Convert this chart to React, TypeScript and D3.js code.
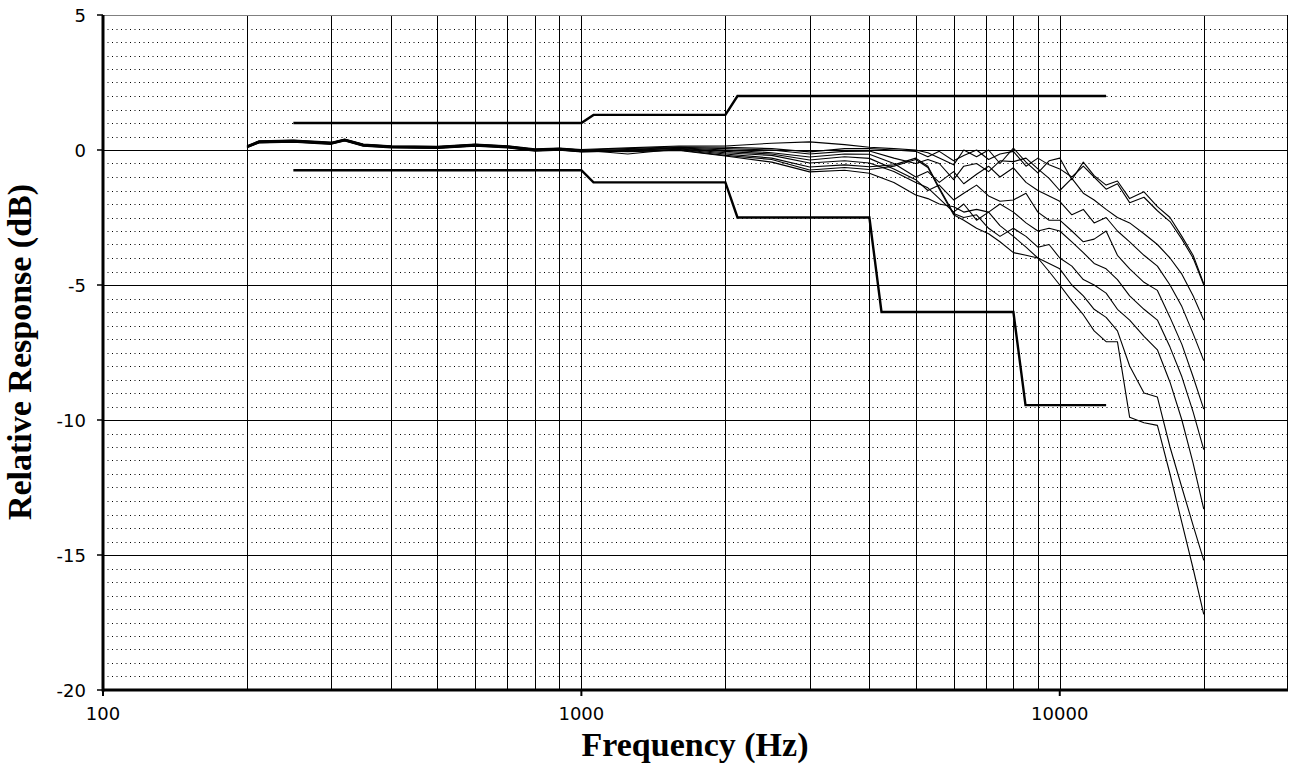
import React from 'react';
import * as d3 from 'd3';

const LF_FREQS = [200, 212, 250, 300, 320, 350, 400, 500, 600, 700, 800, 900, 1000, 1250, 1600];
const HF_FREQS = [2000, 2500, 3000, 3550, 4000, 4500, 5000, 5300, 5600, 6000, 6300, 6700, 7100, 7500, 8000, 8500, 9000, 9500, 10000, 10600, 11200, 11800, 12500, 13200, 14000, 15000, 16000, 17000, 18000, 19000, 20000];
const FREQS = [...LF_FREQS, ...HF_FREQS];

const C1 = [0.16, 0.34, 0.37, 0.29, 0.41, 0.22, 0.16, 0.14, 0.22, 0.16, 0.04, 0.07, 0.02, 0.08, 0.15,
  0.15, 0.25, 0.3, 0.2, 0.1, 0.05, 0.0, -0.1, -0.3, -0.55, 0.0, -0.25, 0.0, -0.5, 0.07, -0.45, -0.85, -0.4, -0.3, -1.1, -0.45, -0.95, -1.3, -1.15, -1.8, -1.55, -2.1, -2.5, -3.2, -3.9, -4.95];
const C2 = [0.14, 0.32, 0.35, 0.27, 0.39, 0.2, 0.14, 0.12, 0.2, 0.14, 0.02, 0.05, 0.0, 0.05, 0.12,
  0.1, 0.05, -0.07, 0.05, 0.05, 0.0, -0.05, -0.25, -0.05, -0.4, -0.2, 0.0, -0.35, -0.15, -0.05, -0.6, -0.3, -0.55, -0.7, -1.0, -0.6, -1.0, -1.45, -1.25, -1.95, -1.75, -2.25, -2.65, -3.3, -4.0, -5.0];
const C3 = [0.12, 0.3, 0.33, 0.25, 0.37, 0.18, 0.12, 0.1, 0.18, 0.12, 0.0, 0.03, -0.03, 0.02, 0.1,
  0.05, 0.0, -0.15, -0.05, -0.04, -0.3, -0.5, -0.35, -0.5, -1.1, -0.6, -0.5, -0.8, -0.4, -0.43, -0.3, -0.7, -1.05, -1.5, -1.05, -1.6, -1.85, -2.2, -2.5, -2.7, -3.1, -3.5, -4.0, -4.6, -5.4, -6.3];
const C4 = [0.1, 0.28, 0.31, 0.23, 0.35, 0.16, 0.1, 0.08, 0.16, 0.1, -0.02, 0.01, -0.05, 0.0, 0.08,
  0.0, -0.1, -0.26, -0.15, -0.16, -0.5, -1.0, -0.8, -1.2, -0.8, -1.25, -0.9, -0.6, -1.0, -0.66, -1.2, -1.5, -1.7, -1.9, -2.4, -2.2, -2.7, -2.5, -3.0, -3.4, -3.9, -4.3, -5.0, -5.8, -6.8, -7.8];
const C5 = [0.08, 0.26, 0.29, 0.21, 0.33, 0.14, 0.08, 0.06, 0.14, 0.08, -0.04, -0.01, -0.07, -0.02, 0.06,
  -0.05, -0.15, -0.37, -0.25, -0.31, -0.7, -1.1, -1.5, -1.3, -1.85, -1.6, -1.3, -1.7, -1.9, -1.85, -1.6, -2.3, -2.6, -2.6, -3.0, -3.4, -3.3, -3.0, -3.9, -4.4, -4.9, -5.2, -6.2, -7.2, -8.4, -9.6];
const C6 = [0.15, 0.33, 0.36, 0.28, 0.4, 0.21, 0.15, 0.13, 0.21, 0.15, 0.03, 0.06, 0.0, -0.15, 0.04,
  -0.1, -0.2, -0.48, -0.4, -0.48, -0.8, -1.2, -1.4, -1.8, -2.3, -2.0, -2.6, -2.3, -2.0, -2.3, -2.7, -3.0, -2.9, -3.0, -3.4, -3.8, -4.2, -4.4, -4.8, -5.4, -5.9, -6.3, -7.3, -8.4, -9.7, -11.1];
const C7 = [0.11, 0.29, 0.32, 0.24, 0.36, 0.17, 0.11, 0.09, 0.17, 0.11, -0.01, 0.02, -0.04, -0.03, 0.02,
  -0.15, -0.3, -0.63, -0.55, -0.62, -0.55, -0.3, -0.6, -1.4, -2.35, -2.5, -2.4, -2.9, -3.2, -2.9, -3.2, -3.6, -3.5, -4.0, -4.3, -4.8, -5.0, -5.3, -5.9, -6.3, -6.9, -7.4, -8.6, -10.0, -11.6, -13.3];
const C8 = [0.09, 0.27, 0.3, 0.22, 0.34, 0.15, 0.09, 0.07, 0.15, 0.09, -0.03, 0.0, -0.06, -0.05, 0.0,
  -0.2, -0.35, -0.74, -0.65, -0.72, -0.6, -0.35, -0.65, -1.45, -2.4, -2.6, -2.9, -3.1, -3.4, -3.8, -3.9, -4.0, -4.2, -4.4, -5.0, -5.4, -5.9, -6.2, -6.7, -8.0, -9.0, -9.15, -11.0, -12.5, -13.9, -15.2];
const C9 = [0.13, 0.31, 0.34, 0.26, 0.38, 0.19, 0.13, 0.11, 0.19, 0.13, 0.01, 0.04, -0.02, -0.06, -0.02,
  -0.22, -0.45, -0.81, -0.75, -0.86, -1.2, -1.67, -1.8, -2.0, -2.1, -2.3, -2.2, -2.3, -2.8, -3.2, -3.6, -4.0, -4.5, -5.0, -5.6, -6.1, -6.7, -7.1, -7.1, -9.9, -10.1, -10.2, -12.0, -13.8, -15.5, -17.2];
const CURVES = [C1, C2, C3, C4, C5, C6, C7, C8, C9];

const UPPER_F = [250, 1000, 1060, 2000, 2120, 12500];
const UPPER_DB = [1, 1, 1.3, 1.3, 2, 2];
const LOWER_F = [250, 1000, 1060, 2000, 2120, 4000, 4240, 8000, 8480, 12500];
const LOWER_DB = [-0.75, -0.75, -1.2, -1.2, -2.5, -2.5, -6, -6, -9.45, -9.45];

const Y_TICKS = [5, 0, -5, -10, -15, -20];
const X_TICKS = [100, 1000, 10000];
const X_GRID = [200, 300, 400, 500, 600, 700, 800, 900, 1000, 2000, 3000, 4000, 5000, 6000, 7000, 8000, 9000, 10000, 20000];

export default function App() {
  const W = 1298, H = 765;
  const x = d3.scaleLog().domain([100, 30000]).range([103, 1288]);
  const y = d3.scaleLinear().domain([-20, 5]).range([690, 15]);
  const line = d3.line<[number, number]>().x(d => x(d[0])).y(d => y(d[1]));
  const minor = d3.range(-19.5, 5, 0.5).filter(v => Math.abs(v % 5) > 1e-6);
  const x0 = x(100), x1 = x(30000), y0 = y(-20), y1 = y(5);

  return (
    <svg width={W} height={H} style={{ position: 'absolute', left: 0, top: 0, background: '#fff' }}>
      <rect x={0} y={0} width={W} height={H} fill="#fff" />
      {minor.map(v => (
        <line key={'m' + v} x1={x0} x2={x1} y1={Math.round(y(v)) + 0.5} y2={Math.round(y(v)) + 0.5}
          stroke="#000" strokeWidth={1} strokeDasharray="1 3.5" />
      ))}
      {[0, -5, -10, -15].map(v => (
        <line key={'M' + v} x1={x0} x2={x1} y1={Math.round(y(v)) + 0.5} y2={Math.round(y(v)) + 0.5}
          stroke="#000" strokeWidth={1} />
      ))}
      {X_GRID.map(f => (
        <line key={'v' + f} x1={Math.round(x(f)) + 0.5} x2={Math.round(x(f)) + 0.5} y1={y1} y2={y0}
          stroke="#000" strokeWidth={1} />
      ))}
      <line x1={x0} x2={x1} y1={y1 + 0.5} y2={y1 + 0.5} stroke="#808080" strokeWidth={1} />
      <line x1={x1 - 0.5} x2={x1 - 0.5} y1={y1} y2={y0} stroke="#000" strokeWidth={1} />

      {CURVES.map((c, i) => (
        <path key={'c' + i} d={line(FREQS.map((f, j) => [f, c[j]]) as [number, number][]) || ''}
          fill="none" stroke="#000" strokeWidth={1.1} strokeLinejoin="round" />
      ))}
      <path d={line(UPPER_F.map((f, j) => [f, UPPER_DB[j]]) as [number, number][]) || ''}
        fill="none" stroke="#000" strokeWidth={2.4} />
      <path d={line(LOWER_F.map((f, j) => [f, LOWER_DB[j]]) as [number, number][]) || ''}
        fill="none" stroke="#000" strokeWidth={2.4} />

      <line x1={x0} x2={x0} y1={y1} y2={y0 + 1.5} stroke="#000" strokeWidth={3} />
      <line x1={x0} x2={x1} y1={y0} y2={y0} stroke="#000" strokeWidth={3} />
      {Y_TICKS.map(v => (
        <g key={'yt' + v}>
          <line x1={x0 - 6} x2={x0} y1={y(v)} y2={y(v)} stroke="#000" strokeWidth={1.5} />
          <text x={86} y={y(v)} textAnchor="end" dominantBaseline="central"
            fontFamily="DejaVu Sans" fontSize={18} fill="#000">{v}</text>
        </g>
      ))}
      {X_TICKS.map(f => (
        <g key={'xt' + f}>
          <line x1={x(f)} x2={x(f)} y1={y0} y2={y0 + 6} stroke="#000" strokeWidth={2} />
          <text x={x(f)} y={720} textAnchor="middle" fontFamily="DejaVu Sans" fontSize={18} fill="#000">{f}</text>
        </g>
      ))}
      <text x={695} y={756} textAnchor="middle" fontFamily="Liberation Serif" fontWeight="bold" fontSize={34} fill="#000">Frequency (Hz)</text>
      <text transform="translate(31,352) rotate(-90)" textAnchor="middle" fontFamily="Liberation Serif" fontWeight="bold" fontSize={34} fill="#000">Relative Response (dB)</text>
    </svg>
  );
}
